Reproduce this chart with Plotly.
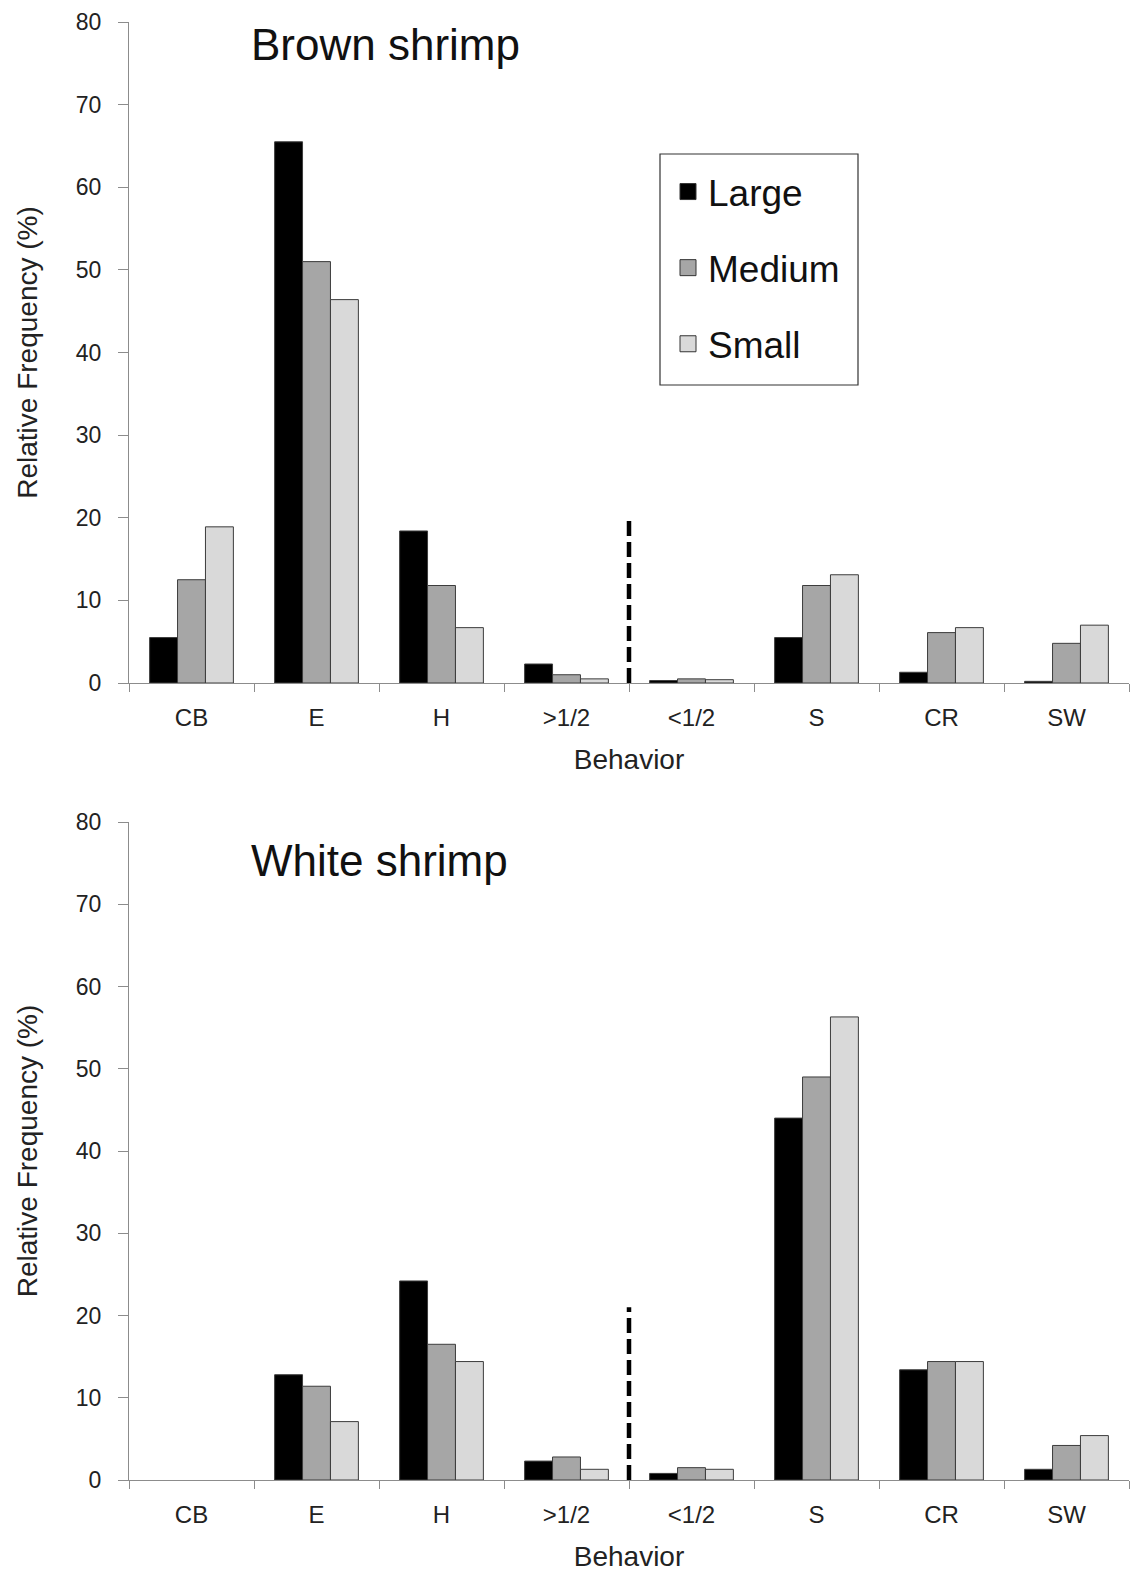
import plotly.graph_objects as go
from plotly.subplots import make_subplots

categories = ["CB", "E", "H", ">1/2", "<1/2", "S", "CR", "SW"]
sizes = ["Large", "Medium", "Small"]

brown_large = [5.5, 65.5, 18.4, 2.3, 0.3, 5.5, 1.3, 0.2]
brown_medium = [12.5, 51.0, 11.8, 1.0, 0.5, 11.8, 6.1, 4.8]
brown_small = [18.9, 46.4, 6.7, 0.5, 0.4, 13.1, 6.7, 7.0]

white_large = [0, 12.8, 24.2, 2.3, 0.8, 44.0, 13.4, 1.3]
white_medium = [0, 11.4, 16.5, 2.8, 1.5, 49.0, 14.4, 4.2]
white_small = [0, 7.1, 14.4, 1.3, 1.3, 56.3, 14.4, 5.4]

divider_top = [20.2, 21.0]
panel_titles = ["Brown shrimp", "White shrimp"]

colors = ["#000000", "#a6a6a6", "#d9d9d9"]
FONT = "Liberation Sans, Arial, sans-serif"
TXT = "#222222"

fig = make_subplots(rows=2, cols=1)

panels = [(brown_large, brown_medium, brown_small), (white_large, white_medium, white_small)]
for r, series in enumerate(panels, start=1):
    for i, (name, vals) in enumerate(zip(sizes, series)):
        fig.add_trace(go.Bar(
            x=categories, y=vals, name=name,
            marker=dict(color=colors[i],
                        line=dict(color="#3c3c3c", width=[1 if v > 0 else 0 for v in vals])),
            showlegend=False,
        ), row=r, col=1)

# legend entries (square swatches)
for i, name in enumerate(sizes):
    fig.add_trace(go.Scatter(
        x=[None], y=[None], mode="markers", name=name, legendgroup=name,
        marker=dict(symbol="square", size=20, color=colors[i], line=dict(color="#333333", width=1)),
    ), row=1, col=1)

H = 1576
W = 1130
ML, MR = 129, 1
mt, mb = 22, H - 1480
ph = H - mt - mb
pw = W - ML - MR
top_px0, top_px80 = 683, 22
bot_px0, bot_px80 = 1480, 822

def py(px):
    return (H - mb - px) / ph

def pxx(px):
    return (px - ML) / pw

fig.update_layout(
    width=W, height=H,
    margin=dict(l=ML, r=MR, t=mt, b=mb),
    paper_bgcolor="white", plot_bgcolor="white",
    barmode="group", bargap=0.33, bargroupgap=0,
    font=dict(family=FONT, color=TXT),
    legend=dict(
        x=pxx(668), y=py(161), xanchor="left", yanchor="top",
        borderwidth=0, bgcolor="rgba(0,0,0,0)",
        font=dict(size=37, family=FONT, color="#111111"),
        tracegroupgap=25, traceorder="grouped",
        itemwidth=30,
    ),
)

fig.update_yaxes(domain=[py(top_px0), py(top_px80)], row=1, col=1)
fig.update_yaxes(domain=[py(bot_px0), py(bot_px80)], row=2, col=1)

for r in (1, 2):
    fig.update_yaxes(
        row=r, col=1, range=[0, 80], dtick=10, showgrid=False, zeroline=False,
        automargin=False,
        showline=True, linecolor="#8c8c8c", linewidth=1,
        ticks="outside", ticklen=10, tickcolor="#8c8c8c",
        tickfont=dict(size=23, family=FONT, color=TXT),
        ticklabelstandoff=12,
        title=dict(text="Relative Frequency (%)", font=dict(size=28, family=FONT, color=TXT), standoff=30),
    )
    fig.update_xaxes(
        row=r, col=1, showgrid=False, showline=True, linecolor="#8c8c8c", linewidth=1,
        automargin=False,
        ticks="outside", ticklen=8, tickcolor="#8c8c8c", tickson="boundaries",
        tickfont=dict(size=24, family=FONT, color=TXT),
        ticklabelstandoff=13,
        title=dict(text="Behavior", font=dict(size=28, family=FONT, color=TXT), standoff=19),
        range=[-0.5, 7.5],
    )

# legend frame
fig.add_shape(type="rect", xref="paper", yref="paper",
              x0=pxx(660), x1=pxx(858), y0=py(385), y1=py(154),
              line=dict(color="#333333", width=1.2), fillcolor="rgba(0,0,0,0)", layer="above")

# dashed dividers between >1/2 and <1/2
for r, top in zip((1, 2), divider_top):
    fig.add_shape(type="line", x0=3.5, x1=3.5, y0=0, y1=top,
                  line=dict(color="black", width=4.5, dash="15px,6px"),
                  xref="x" if r == 1 else "x2", yref="y" if r == 1 else "y2")

for title, ypx in zip(panel_titles, (45, 860)):
    fig.add_annotation(text=title, xref="paper", yref="paper",
                       x=pxx(249), y=py(ypx), xanchor="left", yanchor="middle",
                       showarrow=False, font=dict(size=44, family=FONT, color="#111111"))

fig.write_html(
    "out.html",
    config={"displayModeBar": False},
    post_script="document.body.style.margin='0';document.documentElement.style.overflow='hidden';",
)
